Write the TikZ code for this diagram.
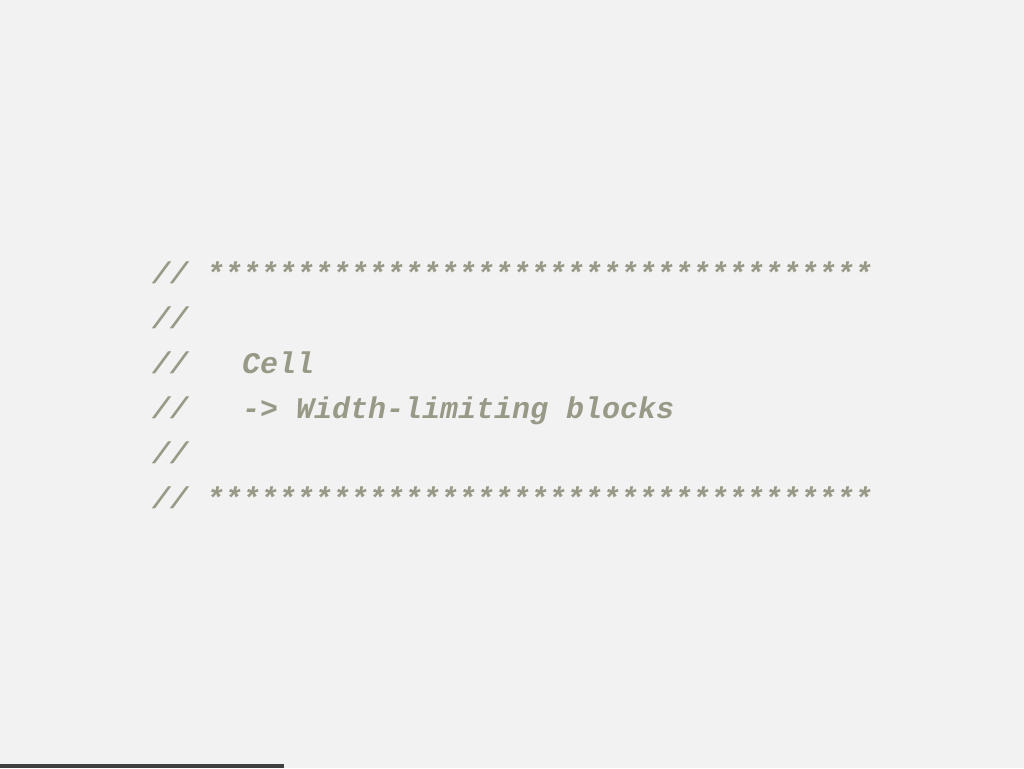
\documentclass[tikz,border=0pt]{standalone}
\usepackage{fontspec}
\newfontfamily\codefont{Liberation Mono}
\definecolor{bgc}{HTML}{F2F2F2}
\definecolor{cmt}{HTML}{999988}
\definecolor{barc}{HTML}{404040}
\begin{document}
\begin{tikzpicture}[x=1pt,y=-1pt,
  codeline/.style={anchor=base west,inner sep=0pt,text=cmt,
    font=\codefont\fontsize{30}{45}\selectfont\bfseries\itshape}]
\fill[bgc] (0,0) rectangle (1024,768);
\useasboundingbox (0,0) rectangle (1024,768);
\fill[barc] (0,764) rectangle (284,768);
\node[codeline] (l1) at (152,283) {// *************************************};
\node[codeline] (l2) at (152,328) {//};
\node[codeline] (l3) at (152,373) {//\ \ \ Cell};
\node[codeline] (l4) at (152,418) {//\ \ \ -> Width-limiting blocks};
\node[codeline] (l5) at (152,463) {//};
\node[codeline] (l6) at (152,508) {// *************************************};
\end{tikzpicture}
\end{document}
